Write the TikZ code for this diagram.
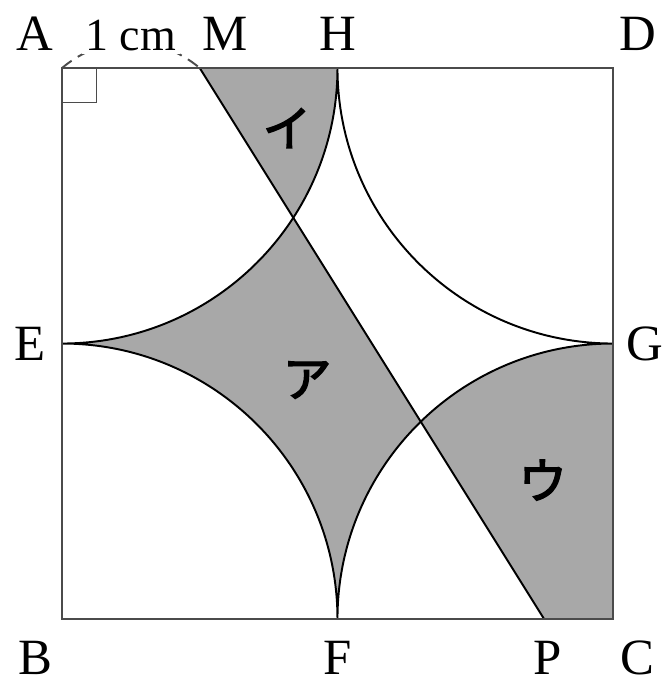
\documentclass[tikz,border=0pt]{standalone}
\usepackage{fontspec}
\setmainfont{Liberation Serif}
\newfontfamily\jpfont{Noto Sans CJK JP}[FakeBold=3]
\usepackage{xcolor}
\definecolor{shadegray}{RGB}{168, 168, 168}
\definecolor{edgegray}{RGB}{75, 75, 75}

\begin{document}
\begin{tikzpicture}[x=2cm, y=2cm,
    curve/.style={line width=0.8pt, black},
    edge/.style={line width=1.1pt, edgegray},
    ptlabel/.style={anchor=base, inner sep=0pt, font=\fontsize{21}{25}\selectfont},
    kana/.style={inner sep=1pt, font=\jpfont\fontsize{20}{24}\selectfont}]

  \useasboundingbox (-0.45, -0.479) rectangle (4.377, 4.494);

  % --- Corners, midpoints and the cut points ---
  \coordinate (A) at (0, 4);
  \coordinate (B) at (0, 0);
  \coordinate (C) at (4, 0);
  \coordinate (D) at (4, 4);
  \coordinate (H) at (2, 4);
  \coordinate (E) at (0, 2);
  \coordinate (F) at (2, 0);
  \coordinate (G) at (4, 2);
  \coordinate (M) at (1, 4);
  \coordinate (P) at (3.5, 0);

  % --- Shaded parts ---
  % star left of MP
  \begin{scope}
    \clip (B) -- (A) -- (M) -- (P) -- cycle;
    \fill[shadegray] (H) arc[start angle=0, end angle=-90, radius=2]
      arc[start angle=90, end angle=0, radius=2]
      arc[start angle=180, end angle=90, radius=2]
      arc[start angle=270, end angle=180, radius=2] -- cycle;
  \end{scope}
  % quarter discs right of MP
  \begin{scope}
    \clip (M) -- (D) -- (C) -- (P) -- cycle;
    \fill[shadegray] (A) circle[radius=2];
    \fill[shadegray] (C) circle[radius=2];
  \end{scope}

  % --- Arcs and cut line ---
  \draw[curve] (H) arc[start angle=0, end angle=-90, radius=2]
    arc[start angle=90, end angle=0, radius=2]
    arc[start angle=180, end angle=90, radius=2]
    arc[start angle=270, end angle=180, radius=2] -- cycle;
  \draw[curve] (M) -- (P);

  % --- Square and right angle ---
  \draw[edge] (A) rectangle (C);
  \draw[thin, edgegray] (A) rectangle ++(0.25, -0.25);

  % AM = 1 cm
  \draw[edgegray, line width=0.8pt, dash pattern=on 5pt off 3pt] (A) to[bend left=40] (M);
  \node[ptlabel, fill=white, inner sep=1.5pt, font=\fontsize{19}{23}\selectfont]
    (lenAM) at (0.5, 4.13) {1 cm};

  % --- Point labels ---
  \foreach \n/\x/\y in {A/-0.196/4.13, M/1.183/4.13, H/2/4.13, D/4.18/4.13,
                        E/-0.232/1.875, G/4.232/1.875,
                        B/-0.196/-0.40, F/2/-0.40, P/3.528/-0.40, C/4.18/-0.40}
    \node[ptlabel] (lbl\n) at (\x, \y) {\n};

  % --- Region labels ---
  \foreach \t/\x/\y/\kn in {ア/1.78/1.735/a, イ/1.633/3.564/i, ウ/3.49/1.009/u}
    \node[kana] (kana\kn) at (\x, \y) {\t};

\end{tikzpicture}
\end{document}
